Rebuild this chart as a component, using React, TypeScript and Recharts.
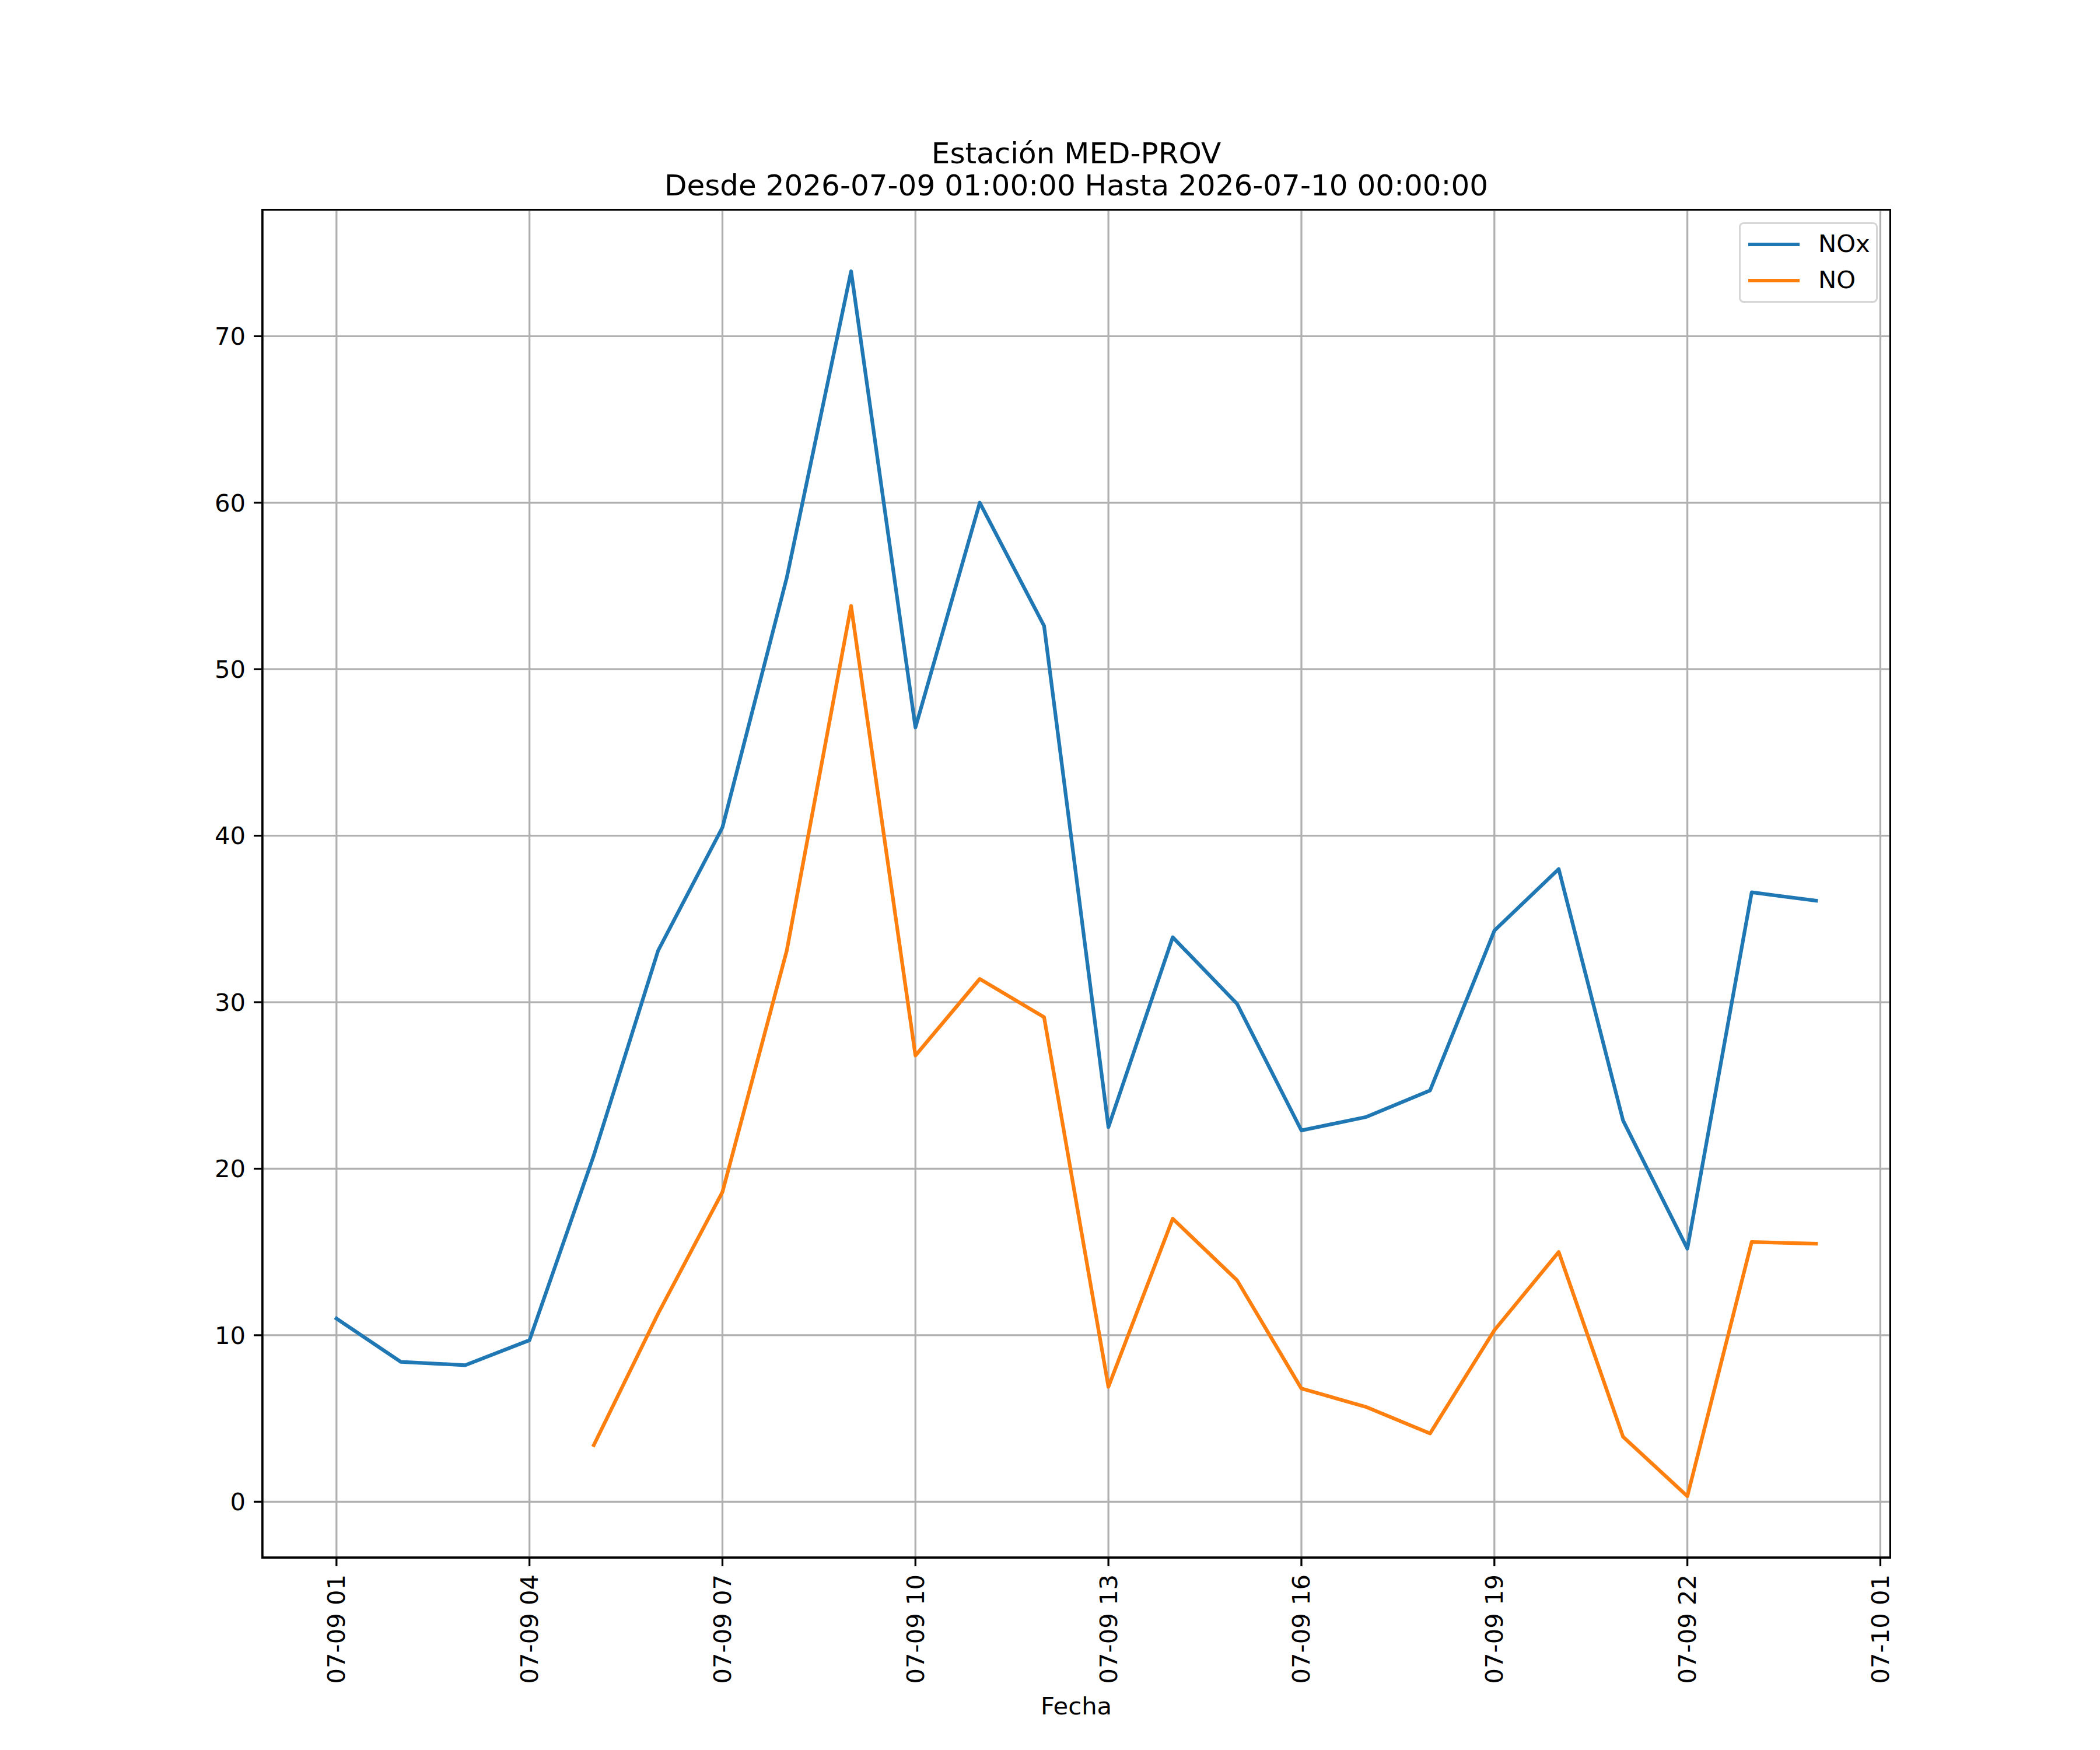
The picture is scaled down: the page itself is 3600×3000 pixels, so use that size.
import React from 'react';
import { LineChart, Line, XAxis, YAxis, CartesianGrid, Legend, Label } from 'recharts';

// hourly samples, 1 = 07-09 01:00 ... 24 = 07-10 00:00
const hours = [1, 2, 3, 4, 5, 6, 7, 8, 9, 10, 11, 12, 13, 14, 15, 16, 17, 18, 19, 20, 21, 22, 23, 24];
const noxValues = [11.0, 8.4, 8.2, 9.7, 20.8, 33.1, 40.5, 55.5, 73.9, 46.5, 60.0, 52.6, 22.5, 33.9, 29.9, 22.3, 23.1, 24.7, 34.3, 38.0, 22.9, 15.2, 36.6, 36.1];
const noValues = [null, null, null, null, 3.4, 11.3, 18.6, 33.1, 53.8, 26.8, 31.4, 29.1, 6.9, 17.0, 13.3, 6.8, 5.7, 4.1, 10.3, 15.0, 3.9, 0.33, 15.6, 15.5];

const seriesNames = ['NOx', 'NO'];
const seriesColors = ['#1f77b4', '#ff7f0e'];

const xTicks = [1, 4, 7, 10, 13, 16, 19, 22, 25];
const xTickLabels = ['07-09 01', '07-09 04', '07-09 07', '07-09 10', '07-09 13', '07-09 16', '07-09 19', '07-09 22', '07-10 01'];
const yTicks = [0, 10, 20, 30, 40, 50, 60, 70];

const titleLines = ['Estación MED-PROV', 'Desde 2026-07-09 01:00:00 Hasta 2026-07-10 00:00:00'];
const xLabel = 'Fecha';

const data = hours.map((h, i) => ({ hour: h, NOx: noxValues[i], NO: noValues[i] }));

const FONT = '"DejaVu Sans", sans-serif';
const TICK_FS = 41.7;
const X_DOMAIN: [number, number] = [-0.15, 25.15];
const Y_DOMAIN: [number, number] = [-3.35, 77.58];

// plot box (axes area) in page pixels
const BOX = { left: 450, top: 360, right: 3240, bottom: 2670 };
const SPINE = 3.3;

const XTick = (props: any) => {
    const { x, y, payload } = props;
    const idx = xTicks.indexOf(payload.value);
    return (
        <text
            x={x}
            y={y}
            transform={`rotate(-90 ${x} ${y})`}
            textAnchor="end"
            dominantBaseline="central"
            fill="#000"
            fontSize={TICK_FS}
            fontFamily={FONT}
        >
            {idx >= 0 ? xTickLabels[idx] : ''}
        </text>
    );
};

const LegendBox = (props: any) => {
    const { payload } = props;
    // keep the plotting order, not the alphabetical one
    const items = seriesNames
        .map((name) => (payload || []).find((p: any) => p.value === name))
        .filter(Boolean);
    return (
        <div style={{
            boxSizing: 'border-box', width: 238, height: 138, border: '3.3px solid #d6d6d6',
            borderRadius: 8, background: 'rgba(255,255,255,0.8)', position: 'relative', fontFamily: FONT,
        }}>
            {items.map((entry: any, i: number) => (
                <div key={entry.value} style={{ position: 'absolute', left: 0, top: 4 + i * 62, height: 62, width: '100%' }}>
                    <div style={{ position: 'absolute', left: 13, top: 28, width: 88, height: 6.25, background: entry.color }} />
                    <div style={{ position: 'absolute', left: 133, top: 5, fontSize: TICK_FS, lineHeight: '50px', color: '#000' }}>
                        {entry.value}
                    </div>
                </div>
            ))}
        </div>
    );
};

const App: React.FC = () => {
    return (
        <div style={{ position: 'absolute', left: 0, top: 0, width: 3600, height: 3000, background: '#fff', fontFamily: FONT }}>
            {titleLines.map((t, i) => (
                <div key={i} style={{
                    position: 'absolute', left: 0, width: BOX.left + BOX.right, top: 238 + i * 55, textAlign: 'center',
                    fontSize: 50, lineHeight: '50px', color: '#000', whiteSpace: 'nowrap',
                }}>{t}</div>
            ))}
            <LineChart width={3600} height={3000} data={data} margin={{ top: 360, right: 360, left: 330, bottom: 130 }}>
                <CartesianGrid stroke="#b0b0b0" strokeWidth={3.3} />
                <XAxis
                    dataKey="hour"
                    type="number"
                    domain={X_DOMAIN}
                    ticks={xTicks}
                    interval={0}
                    height={200}
                    tickSize={15}
                    tickMargin={14}
                    tick={<XTick />}
                    axisLine={{ stroke: '#000', strokeWidth: SPINE }}
                    tickLine={{ stroke: '#000', strokeWidth: SPINE }}
                    allowDataOverflow
                >
                    <Label value={xLabel} position="bottom" offset={39} fill="#000" fontSize={TICK_FS} fontFamily={FONT} />
                </XAxis>
                <YAxis
                    type="number"
                    domain={Y_DOMAIN}
                    ticks={yTicks}
                    interval={0}
                    width={120}
                    tickSize={15}
                    tickMargin={14}
                    tick={{ fill: '#000', fontSize: TICK_FS, fontFamily: FONT }}
                    axisLine={{ stroke: '#000', strokeWidth: SPINE }}
                    tickLine={{ stroke: '#000', strokeWidth: SPINE }}
                    allowDataOverflow
                />
                {seriesNames.map((name, i) => (
                    <Line key={name} type="linear" dataKey={name} name={name} stroke={seriesColors[i]} strokeWidth={6.25}
                        dot={false} strokeLinejoin="round" strokeLinecap="square" isAnimationActive={false} />
                ))}
                <Legend
                    layout="horizontal"
                    verticalAlign="middle"
                    align="center"
                    content={<LegendBox />}
                    wrapperStyle={{ position: 'absolute', left: 2981, top: 381, width: 238, height: 138 }}
                />
            </LineChart>
            {/* frame round the plot area (top and right spines) */}
            <div style={{
                position: 'absolute', boxSizing: 'border-box', pointerEvents: 'none',
                left: BOX.left - SPINE / 2, top: BOX.top - SPINE / 2,
                width: BOX.right - BOX.left + SPINE, height: BOX.bottom - BOX.top + SPINE,
                border: `${SPINE}px solid #000`,
            }} />
        </div>
    );
};

export default App;
